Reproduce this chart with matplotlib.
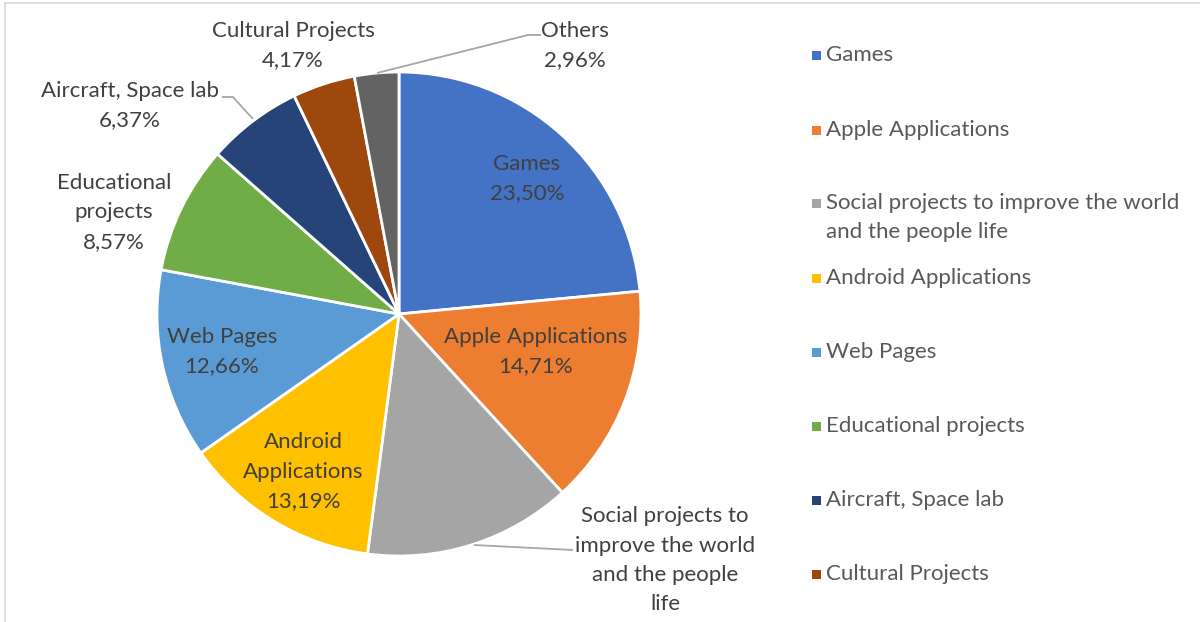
import matplotlib
matplotlib.use("Agg")
import matplotlib.pyplot as plt
from matplotlib.patches import Rectangle

categories = ["Games", "Apple Applications",
              "Social projects to improve the world and the people life",
              "Android Applications", "Web Pages", "Educational projects",
              "Aircraft, Space lab", "Cultural Projects", "Others"]
shares = [23.50, 14.71, 13.87, 13.19, 12.66, 8.57, 6.37, 4.17, 2.96]
colors = ["#4472C4", "#ED7D31", "#A5A5A5", "#FFC000", "#5B9BD5",
          "#70AD47", "#264478", "#9E480E", "#636363"]

# Slice labels: text lines and their placement (pixel coordinates, y from top)
label_lines = [
    ["Games"], ["Apple Applications"], ["Social projects to", "improve the world", "and the people", "life"],
    ["Android", "Applications"], ["Web Pages"], ["Educational", "projects"],
    ["Aircraft, Space lab"], ["Cultural Projects"], ["Others"],
]
show_pct = [True, True, False, True, True, True, True, True, True]
label_pos = [(527, 164), (536, 337), (665, 516), (303, 442), (222, 337),
             (114, 183), (130, 91), (293, 31), (575, 31)]
legend_labels = ["Games", "Apple Applications",
                 "Social projects to improve the world\nand the people life",
                 "Android Applications", "Web Pages", "Educational projects",
                 "Aircraft, Space lab", "Cultural Projects"]
legend_y = [55, 130, 203, 278, 352, 426, 500, 574]

W, H = 1200, 622
FONT = "Lato"
FS = 16
LINE = 29.5

fig = plt.figure(figsize=(W / 100, H / 100), dpi=100)
ax = fig.add_axes([0, 0, 1, 1])

cx, cy, r = 399, H - 314, 242
ax.pie(shares, colors=colors, startangle=90, counterclock=False,
       center=(cx, cy), radius=r, frame=True,
       wedgeprops=dict(edgecolor="white", linewidth=2.0))
ax.set_xlim(0, W)
ax.set_ylim(0, H)
ax.set_aspect("equal")
ax.axis("off")

def fmt(v):
    return f"{v:.2f}%".replace(".", ",")

for lines, pct, v, (x, y) in zip(label_lines, show_pct, shares, label_pos):
    rows = list(lines) + ([fmt(v)] if pct else [])
    for i, t in enumerate(rows):
        ax.text(x, H - (y + i * LINE), t, ha="center", va="center",
                fontsize=FS, family=FONT, color="#404040")

# leader lines
leader = [
    [(222, 97), (233, 97), (253, 119)],
    [(541, 35), (528, 35), (377, 73)],
    [(573, 550), (474, 545)],
]
for pts in leader:
    ax.plot([p[0] for p in pts], [H - p[1] for p in pts], color="#A6A6A6", lw=1.3,
            solid_capstyle="butt")

# legend
for lab, c, y in zip(legend_labels, colors, legend_y):
    ax.add_patch(Rectangle((812, H - y - 4.5), 9, 9, facecolor=c, edgecolor="none"))
    rows = lab.split("\n")
    for i, t in enumerate(rows):
        ax.text(826, H - (y + i * LINE), t, ha="left", va="center",
                fontsize=FS, family=FONT, color="#595959")

# chart area border
ax.plot([5, W], [H - 3, H - 3], color="#D9D9D9", lw=1.2)
ax.plot([5, 5], [H - 3, 0], color="#D9D9D9", lw=1.2)

fig.savefig("out.png", dpi=100)
